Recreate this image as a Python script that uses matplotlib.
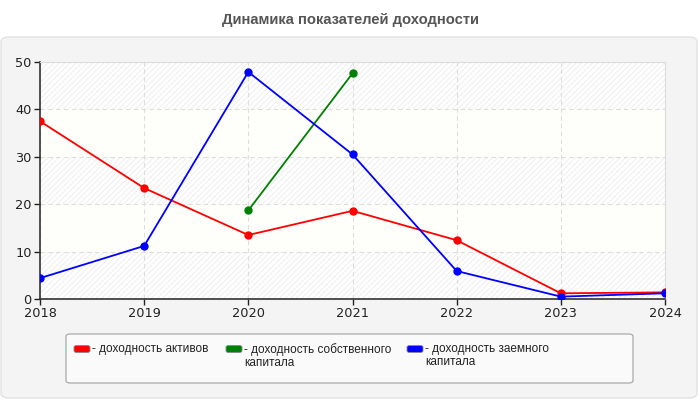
import matplotlib
matplotlib.use("Agg")
import matplotlib.pyplot as plt
from matplotlib.patches import FancyBboxPatch
import numpy as np

years = [2018, 2019, 2020, 2021, 2022, 2023, 2024]
roa = [37.5, 23.4, 13.5, 18.6, 12.4, 1.2, 1.4]
roe_years = [2020, 2021]
roe = [18.7, 47.6]
rod = [4.4, 11.2, 47.9, 30.5, 5.9, 0.5, 1.2]
labels = ["- доходность активов", "- доходность собственного\nкапитала", "- доходность заемного\nкапитала"]
colors = ["#ff0000", "#008000", "#0000ff"]
title = "Динамика показателей доходности"
yticks = [0, 10, 20, 30, 40, 50]

plt.rcParams['font.family'] = ['DejaVu Sans']
plt.rcParams['hatch.linewidth'] = 0.6

W, H = 700, 400
fig = plt.figure(figsize=(7, 4), dpi=100)
fig.patch.set_facecolor("white")

def fx(px): return px / W
def fy(py): return 1 - py / H

# outer panel
panel = FancyBboxPatch((fx(1), fy(398)), fx(696), 361 / H,
                       boxstyle="round,pad=0,rounding_size=0.012",
                       transform=fig.transFigure, facecolor="#f4f4f4",
                       edgecolor="#e2e2e2", linewidth=1.0, zorder=0)
fig.add_artist(panel)

fig.text(0.5, fy(20), title, ha="center", va="center", fontsize=10.6,
         fontweight="bold", color="#555555", family=["Liberation Sans", "DejaVu Sans"])

ax = fig.add_axes([fx(40), fy(299), fx(665) - fx(40), (299 - 62) / H])
ax.set_facecolor("#ffffff")
ax.set_xlim(2018, 2024)
ax.set_ylim(0, 50)

# bands
for i, (lo, hi) in enumerate(zip(yticks[:-1], yticks[1:])):
    if i % 2 == 0:
        ax.axhspan(lo, hi, facecolor="white", edgecolor="#ececec", hatch="//////", linewidth=0, zorder=0)
    else:
        ax.axhspan(lo, hi, facecolor="#fefefa", edgecolor="none", linewidth=0, zorder=0)

ax.grid(True, color="#dddddd", linestyle=(0, (4, 3)), linewidth=0.8, zorder=1)
ax.set_axisbelow(True)

ax.plot(years, roa, color=colors[0], marker="o", markersize=5, linewidth=1.3, zorder=3)
ax.plot(roe_years, roe, color=colors[1], marker="o", markersize=5, linewidth=1.3, zorder=3)
ax.plot(years, rod, color=colors[2], marker="o", markersize=5, linewidth=1.3, zorder=4)

ax.set_xticks(years)
ax.set_xticklabels([str(y) for y in years])
ax.set_yticks(yticks)
ax.tick_params(axis="both", labelsize=9.3, colors="#222222", length=4, width=1, pad=2)
for s in ["top", "right"]:
    ax.spines[s].set_color("#dddddd")
for s in ["left", "bottom"]:
    ax.spines[s].set_color("#333333")
    ax.spines[s].set_linewidth(1.2)

# legend box
lg = FancyBboxPatch((fx(66), fy(383)), fx(633 - 66), (383 - 334) / H,
                    boxstyle="round,pad=0,rounding_size=0.006",
                    transform=fig.transFigure, facecolor="#fafafa",
                    edgecolor="#aaaaaa", linewidth=0.9, zorder=1)
fig.add_artist(lg)

handle_x = [74, 226, 407]
for hx, lab, col in zip(handle_x, labels, colors):
    h = FancyBboxPatch((fx(hx), fy(352.5)), fx(16), 7 / H,
                       boxstyle="round,pad=0,rounding_size=0.004",
                       transform=fig.transFigure, facecolor=col,
                       edgecolor="#888888", linewidth=0.6, zorder=2)
    fig.add_artist(h)
    fig.text(fx(hx + 18), fy(343), lab, ha="left", va="top", fontsize=8.5,
             color="#222222", linespacing=1.12, zorder=3,
             family=["Liberation Sans", "DejaVu Sans"])

fig.savefig("out.png", dpi=100)
